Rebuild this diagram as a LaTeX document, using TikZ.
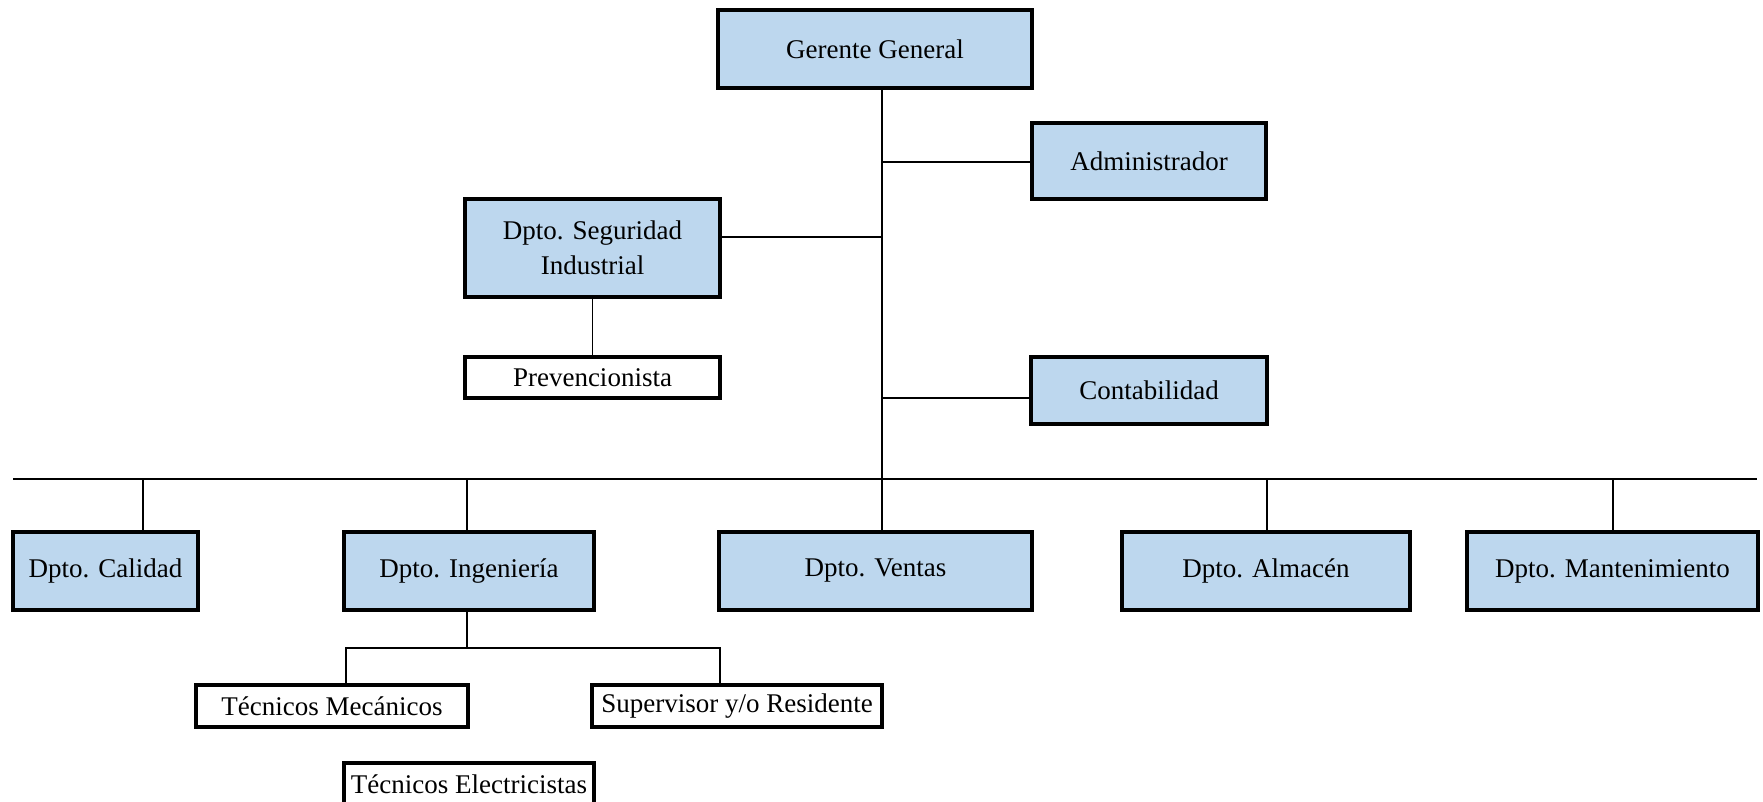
\documentclass[tikz,border=0pt]{standalone}
\usepackage{fontspec}
\setmainfont{Liberation Serif}
\definecolor{boxblue}{HTML}{BDD7EE}
\begin{document}
\begin{tikzpicture}[x=1pt,y=-1pt,
  unit/.style={draw=black,line width=3.2pt,inner sep=0pt,align=center,
    font=\fontsize{27}{35}\selectfont},
  deptbox/.style={unit,fill=boxblue},
  staffbox/.style={unit,fill=white},
  link/.style={draw=black,line width=1.6pt}]
\useasboundingbox (0,0) rectangle (1763,802);

% upper management
\node[deptbox,minimum width=314pt,minimum height=78pt] (gg) at (875,49) {Gerente General};
\node[deptbox,minimum width=234pt,minimum height=76pt] (adm) at (1149,161) {Administrador};
\node[deptbox,minimum width=255pt,minimum height=98pt] (seg) at (592.5,248) {Dpto. Seguridad\\Industrial};
\node[staffbox,minimum width=255pt,minimum height=41pt] (prev) at (592.5,377.5) {Prevencionista};
\node[deptbox,minimum width=236pt,minimum height=67pt] (cont) at (1149,390.5) {Contabilidad};

% departments
\node[deptbox,minimum width=185pt,minimum height=78pt] (cal) at (105.5,571) {Dpto. Calidad};
\node[deptbox,minimum width=250pt,minimum height=78pt] (ing) at (469,571) {Dpto. Ingeniería};
\node[deptbox,minimum width=313pt,minimum height=78pt] (ven) at (875.5,571) {Dpto. Ventas};
\node[deptbox,minimum width=288pt,minimum height=78pt] (alm) at (1266,571) {Dpto. Almacén};
\node[deptbox,minimum width=291pt,minimum height=78pt] (man) at (1612.5,571) {Dpto. Mantenimiento};

% engineering staff
\node[staffbox,minimum width=272pt,minimum height=42pt] (mec) at (332,706) {Técnicos Mecánicos};
\node[staffbox,minimum width=290pt,minimum height=42pt] (sup) at (737,706) {Supervisor y/o Residente};
\node[staffbox,minimum width=250pt,minimum height=42pt] (ele) at (469,784) {Técnicos Electricistas};

% trunk and side branches
\coordinate (ttop) at (882,88);
\coordinate (segj) at (882,237);
\coordinate (contj) at (882,398);
\coordinate (admj) at (882,162);
\draw[link] (ttop) -- (ttop |- ven.north);
\draw[link] (admj) -- (admj -| adm.west);
\draw[link] (segj) -- (segj -| seg.east);
\draw[link] (contj) -- (contj -| cont.west);
\draw[link] (seg.south) -- (prev.north);

% department bus
\coordinate (busl) at (13,479);
\coordinate (busr) at (1757,479);
\draw[link,line width=2pt] (busl) -- (busr);
\coordinate (calj) at (143,479);
\draw[link] (calj) -- (calj |- cal.north);
\coordinate (ingj) at (467,479);
\draw[link] (ingj) -- (ingj |- ing.north);
\coordinate (almj) at (1267,479);
\draw[link] (almj) -- (almj |- alm.north);
\coordinate (manj) at (1613,479);
\draw[link] (manj) -- (manj |- man.north);

% engineering sub-branch
\coordinate (ingb) at (467,648);
\coordinate (mecj) at (346,648);
\coordinate (supj) at (720,648);
\draw[link] (ingb |- ing.south) -- (ingb);
\draw[link] (mecj |- mec.north) -- (mecj) -- (supj) -- (supj |- sup.north);
\end{tikzpicture}
\end{document}
